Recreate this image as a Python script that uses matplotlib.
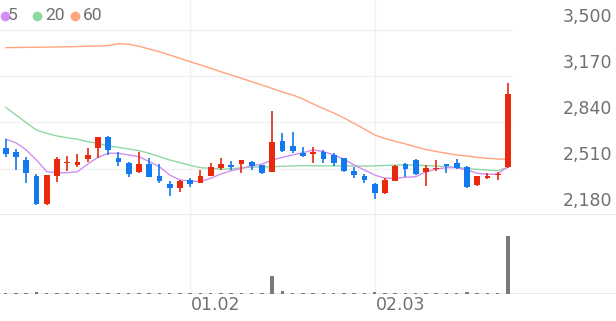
import numpy as np
import matplotlib
matplotlib.use("Agg")
import matplotlib.pyplot as plt
from matplotlib.lines import Line2D

# ---- data ----
opens = [2659, 2631, 2571, 2456, 2255, 2456, 2550, 2537, 2580, 2655,
         2738, 2588, 2552, 2483, 2542, 2456, 2399, 2368, 2428, 2408,
         2456, 2511, 2537, 2542, 2559, 2535, 2487, 2709, 2671, 2623,
         2614, 2631, 2607, 2583, 2494, 2458, 2397, 2332, 2423, 2542,
         2571, 2487, 2504, 2540, 2547, 2523, 2392, 2440, 2463, 2519]
highs = [2720, 2648, 2590, 2471, 2465, 2595, 2600, 2612, 2655, 2736,
         2743, 2631, 2555, 2626, 2583, 2540, 2423, 2428, 2440, 2499,
         2547, 2588, 2566, 2573, 2564, 2537, 2923, 2763, 2770, 2662,
         2666, 2643, 2619, 2588, 2523, 2468, 2404, 2442, 2535, 2547,
         2576, 2535, 2571, 2540, 2576, 2525, 2458, 2480, 2487, 3126]
lows = [2590, 2499, 2408, 2248, 2250, 2415, 2494, 2523, 2559, 2583,
        2607, 2528, 2451, 2481, 2447, 2404, 2313, 2341, 2375, 2406,
        2454, 2499, 2499, 2480, 2499, 2471, 2485, 2626, 2619, 2595,
        2552, 2547, 2530, 2487, 2444, 2408, 2293, 2330, 2421, 2451,
        2463, 2384, 2494, 2480, 2506, 2373, 2387, 2435, 2428, 2517]
closes = [2614, 2590, 2480, 2255, 2461, 2578, 2559, 2557, 2607, 2734,
          2643, 2559, 2471, 2540, 2451, 2423, 2368, 2423, 2399, 2458,
          2523, 2542, 2523, 2571, 2530, 2476, 2702, 2638, 2638, 2600,
          2631, 2576, 2547, 2492, 2466, 2428, 2334, 2428, 2530, 2506,
          2471, 2516, 2516, 2528, 2516, 2375, 2456, 2458, 2471, 3042]
volumes = [15, 15, 15, 25, 15, 15, 12, 12, 15, 15,
           15, 15, 12, 12, 15, 12, 12, 12, 15, 12,
           12, 12, 12, 12, 12, 12, 180, 30, 12, 12,
           12, 12, 12, 12, 12, 12, 20, 12, 12, 12,
           12, 12, 12, 12, 12, 20, 12, 12, 12, 580]
ma5 = [2720, 2695, 2643, 2571, 2487, 2480, 2480, 2487, 2542, 2590,
       2619, 2619, 2607, 2595, 2559, 2523, 2463, 2428, 2420, 2417,
       2440, 2471, 2494, 2511, 2528, 2542, 2571, 2590, 2607, 2623,
       2643, 2631, 2607, 2576, 2535, 2499, 2463, 2440, 2440, 2447,
       2451, 2487, 2506, 2516, 2516, 2499, 2476, 2468, 2471, 2523]
ma20 = [2949, 2894, 2839, 2786, 2763, 2743, 2731, 2720, 2702, 2691,
        2671, 2662, 2650, 2638, 2619, 2595, 2571, 2552, 2533, 2516,
        2511, 2506, 2506, 2516, 2519, 2521, 2523, 2526, 2528, 2530,
        2530, 2529, 2529, 2528, 2528, 2528, 2529, 2532, 2534, 2535,
        2535, 2530, 2528, 2523, 2519, 2509, 2504, 2499, 2494, 2519]
ma60 = [3377, 3378, 3379, 3380, 3381, 3382, 3383, 3385, 3387, 3389,
        3392, 3405, 3401, 3387, 3367, 3348, 3324, 3301, 3276, 3253,
        3229, 3204, 3181, 3157, 3133, 3109, 3084, 3059, 3037, 3009,
        2973, 2940, 2908, 2872, 2833, 2793, 2750, 2725, 2705, 2686,
        2666, 2646, 2632, 2619, 2607, 2600, 2590, 2583, 2578, 2576]
price_ticks = [2180, 2510, 2840, 3170, 3500]
date_ticks = {18: "01.02", 36: "02.03"}
ma_names = ["5", "20", "60"]

RED = "#e8290e"
BLUE = "#1279ee"
MA_COLORS = ["#d28ef2", "#8fd8a2", "#ffa47c"]
GRID = "#f1f1f1"
LINE = "#e6e6e6"
TXT = "#707070"

W, H = 616, 321
fig = plt.figure(figsize=(W / 100, H / 100), dpi=100)

def fy(px):
    return (H - px) / H

ax = fig.add_axes([0, fy(214.5), 1, 214.5 / H])
axv = fig.add_axes([0, fy(294), 1, (294 - 214.5) / H])

n = len(opens)
x = np.arange(n)
xlim = (-0.556, 59.54)
for a in (ax, axv):
    a.set_xlim(*xlim)
    a.axis("off")

ax.set_ylim(2180, 2180 + 214.5 * 1320 / 184)

# grid
for p in price_ticks[1:]:
    ax.plot([xlim[0], 49.4], [p, p], color=GRID, lw=1, zorder=0)
ax.axhline(price_ticks[0], color=LINE, lw=1.2, zorder=0)
for i in date_ticks:
    ax.axvline(i, color=GRID, lw=1, zorder=0)
    axv.axvline(i, color=GRID, lw=1, zorder=0)

# moving averages
for vals, c in zip([ma60, ma20, ma5], MA_COLORS[::-1]):
    ax.plot(x, vals, color=c, lw=1.0, zorder=1)

# candles
o = np.array(opens); c = np.array(closes)
hi = np.array(highs); lo = np.array(lows)
colors = [RED if cc >= oo else BLUE for oo, cc in zip(o, c)]
ax.vlines(x, lo, hi, colors=colors, lw=1.2, zorder=2)
body = np.maximum(np.abs(c - o), 8)
ax.bar(x, body, bottom=np.minimum(o, c), width=0.55, color=colors, zorder=3)

# price labels
for p in price_ticks:
    ax.annotate(f"{p:,}", xy=(1, p), xycoords=("axes fraction", "data"),
                xytext=(-4, 13.5), textcoords="offset pixels",
                ha="right", va="center", fontsize=12.5, color=TXT,
                family="DejaVu Sans", annotation_clip=False)

# volume
axv.set_ylim(0, 795)
axv.bar(x, volumes, width=0.34, color="#7a7a7a", zorder=2)
axv.axhline(0, color=LINE, lw=1.2, zorder=1)
for i, lab in date_ticks.items():
    axv.annotate(lab, xy=(i, 0), xycoords="data", xytext=(1, -11),
                 textcoords="offset pixels", ha="left", va="center",
                 fontsize=12.5, color=TXT, family="DejaVu Sans",
                 annotation_clip=False)

# legend
dot_x = [4.5, 37.2, 74.5]
txt_x = [7.8, 45.5, 82.5]
for dx, tx, name, col in zip(dot_x, txt_x, ma_names, MA_COLORS):
    fig.add_artist(Line2D([dx / W], [fy(15.7)], marker="o", markersize=7,
                          color=col, markeredgewidth=0, transform=fig.transFigure))
    fig.text(tx / W, fy(15.7), name, ha="left", va="center", fontsize=12.5,
             color=TXT, family="Roboto")

fig.savefig("out.png", dpi=100)
